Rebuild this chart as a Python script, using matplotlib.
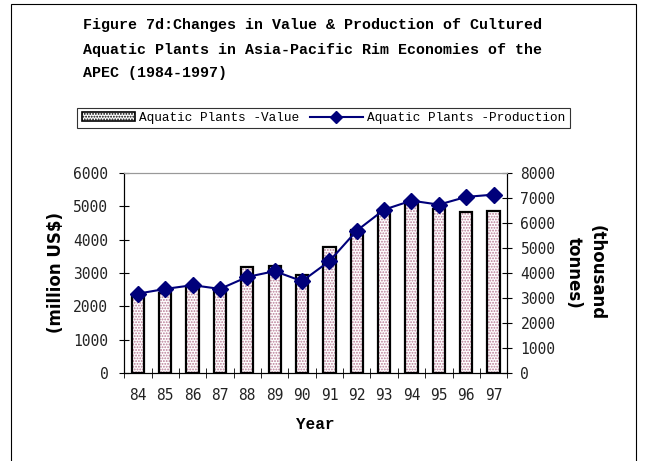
import numpy as np
import matplotlib.pyplot as plt
from matplotlib.patches import Patch, Rectangle
from matplotlib.lines import Line2D

years = ["84", "85", "86", "87", "88", "89", "90", "91", "92", "93", "94", "95", "96", "97"]
value = [2350, 2400, 2620, 2480, 3180, 3200, 2950, 3780, 4300, 4900, 5150, 4920, 4820, 4870]
production = [3170, 3360, 3510, 3360, 3840, 4070, 3670, 4470, 5690, 6530, 6890, 6730, 7040, 7130]

tickfont = "DejaVu Sans Mono"
mono = "Liberation Mono"
plt.rcParams["hatch.linewidth"] = 0.9

fig = plt.figure(figsize=(6.47, 4.61), dpi=100)
fig.patches.append(Rectangle((11 / 647, -0.1), 625 / 647, 1.092, transform=fig.transFigure,
                             fill=False, edgecolor="black", linewidth=0.8))

ax = fig.add_axes([0.192, 0.191, 0.592, 0.434])
x = np.arange(len(years))

# hatched fill then black outline
ax.bar(x, value, width=0.45, color="white", edgecolor="#b87a94", hatch="......", linewidth=0, zorder=2)
ax.bar(x, value, width=0.45, fill=False, edgecolor="black", linewidth=1.6, zorder=3)

ax.set_ylim(0, 6000)
ax.set_yticks(range(0, 6001, 1000))
ax.set_xlim(-0.5, len(years) - 0.5)
ax.set_xticks(x)
ax.set_xticklabels(years, fontfamily=tickfont, fontsize=10.5, color="#222222")
ax.set_xticks(np.arange(-0.5, len(years), 1), minor=True)
ax.tick_params(axis="x", which="major", length=0, pad=11)
ax.tick_params(axis="x", which="minor", length=7, direction="inout")
ax.tick_params(axis="y", direction="inout", length=7, pad=8)
for lab in ax.get_yticklabels():
    lab.set_fontfamily(tickfont)
    lab.set_fontsize(10.5)
    lab.set_color("#222222")
ax.spines["top"].set_color("#999999")
ax.set_xlabel("Year", fontfamily=mono, fontweight="bold", fontsize=11.5, labelpad=10)
ax.set_ylabel("(million US$)", fontfamily="DejaVu Sans", fontweight="bold", fontsize=12, labelpad=6)

ax2 = ax.twinx()
ax2.plot(x, production, color="#00007a", marker="D", markersize=8, linewidth=1.5, zorder=4)
ax2.set_ylim(0, 8000)
ax2.set_yticks(range(0, 8001, 1000))
ax2.tick_params(axis="y", direction="inout", length=7, pad=6)
for lab in ax2.get_yticklabels():
    lab.set_fontfamily(tickfont)
    lab.set_fontsize(10.5)
    lab.set_color("#222222")
ax2.spines["top"].set_color("#999999")
ax2.set_ylabel("(thousand\ntonnes)", fontfamily="DejaVu Sans", fontweight="bold", fontsize=12,
               rotation=-90, labelpad=36, linespacing=1.3)

fig.text(0.128, 0.945, "Figure 7d:Changes in Value & Production of Cultured",
         fontfamily=mono, fontweight="bold", fontsize=10.8, ha="left", va="center")
fig.text(0.128, 0.892, "Aquatic Plants in Asia-Pacific Rim Economies of the",
         fontfamily=mono, fontweight="bold", fontsize=10.8, ha="left", va="center")
fig.text(0.128, 0.842, "APEC (1984-1997)",
         fontfamily=mono, fontweight="bold", fontsize=10.8, ha="left", va="center")

h1 = Patch(facecolor="white", edgecolor="black", hatch="......", linewidth=1.2)
h2 = Line2D([], [], color="#00007a", marker="D", markersize=6, linewidth=1.5)
leg = fig.legend([h1, h2], ["Aquatic Plants -Value", "Aquatic Plants -Production"],
                 loc="center", bbox_to_anchor=(0.5, 0.744), ncol=2, frameon=True, fancybox=False,
                 edgecolor="black", prop={"family": mono, "size": 9.2}, handlelength=4.2,
                 handletextpad=0.3, columnspacing=0.8, borderpad=0.35, borderaxespad=0)
leg.get_frame().set_linewidth(0.8)

plt.savefig("out.png", dpi=100)
